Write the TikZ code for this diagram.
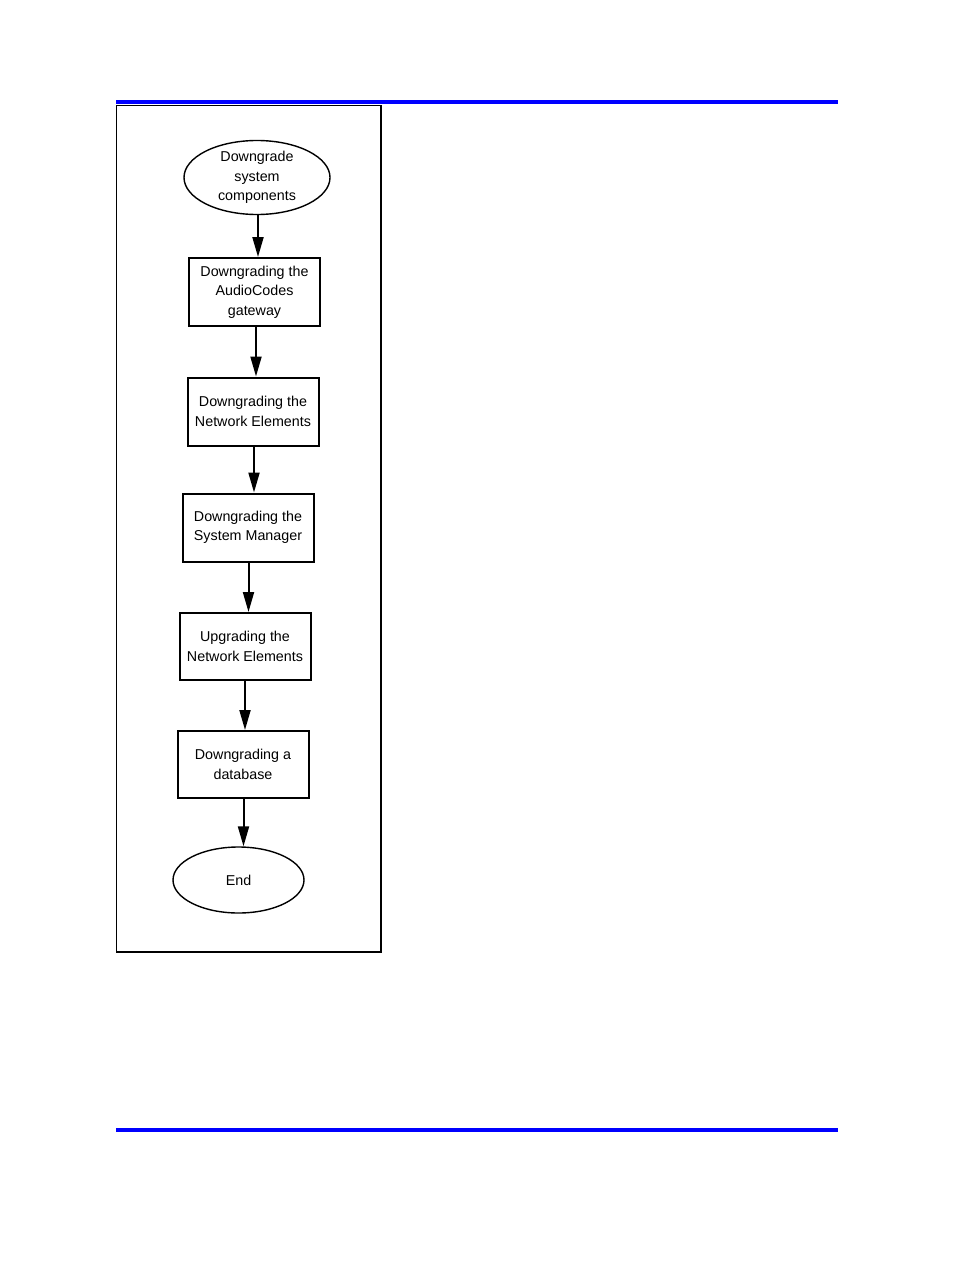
\documentclass[tikz,border=0pt]{standalone}
\usepackage{fontspec}
\setmainfont{Liberation Sans}
\usetikzlibrary{shapes.geometric,arrows.meta}
\begin{document}
\begin{tikzpicture}[x=1pt,y=-1pt,
  every node/.style={font=\fontsize{14.3}{19.5}\selectfont, align=center, inner sep=0pt},
  stepbox/.style={draw, line width=2pt, rectangle, minimum width=131pt, minimum height=68pt},
  term/.style={draw, line width=1.4pt, ellipse},
  conn/.style={line width=2pt, -{Triangle[length=20pt,width=11pt]}},
  rule/.style={draw=none, fill={rgb,255:red,0;green,0;blue,255}}]
\useasboundingbox (0,0) rectangle (954,1272);
\fill[rule] (116,99.5) rectangle (838,103.5);
\fill[rule] (116,1127.5) rectangle (838,1131.5);
\draw[line width=1.3pt] (116.5,105.5) rectangle (381,952);
\node[term, minimum width=146pt, minimum height=66pt] (s) at (257,177.5) {Downgrade\\system\\components};
\node[stepbox] (b1) at (254.5,292) {Downgrading the\\AudioCodes\\gateway};
\node[stepbox] (b2) at (253,411.5) {Downgrading the\\Network Elements};
\node[stepbox] (b3) at (248,527.5) {Downgrading the\\System Manager};
\node[stepbox, minimum height=67pt] (b4) at (245,646.5) {Upgrading the\\Network Elements};
\node[stepbox, minimum height=67pt] (b5) at (243,764.5) {Downgrading a\\database};
\node[term, minimum width=131pt, minimum height=66pt] (e) at (238.5,880) {End};
\draw[conn] ([xshift=1pt]s.south) -- ([xshift=1pt]s.south |- b1.north);
\draw[conn] ([xshift=1.5pt]b1.south) -- ([xshift=1.5pt]b1.south |- b2.north);
\draw[conn] ([xshift=1pt]b2.south) -- ([xshift=1pt]b2.south |- b3.north);
\draw[conn] ([xshift=0.5pt]b3.south) -- ([xshift=0.5pt]b3.south |- b4.north);
\draw[conn] (b4.south) -- (b4.south |- b5.north);
\draw[conn] ([xshift=0.5pt]b5.south) -- ([xshift=0.5pt]b5.south |- e.north);
\end{tikzpicture}
\end{document}
